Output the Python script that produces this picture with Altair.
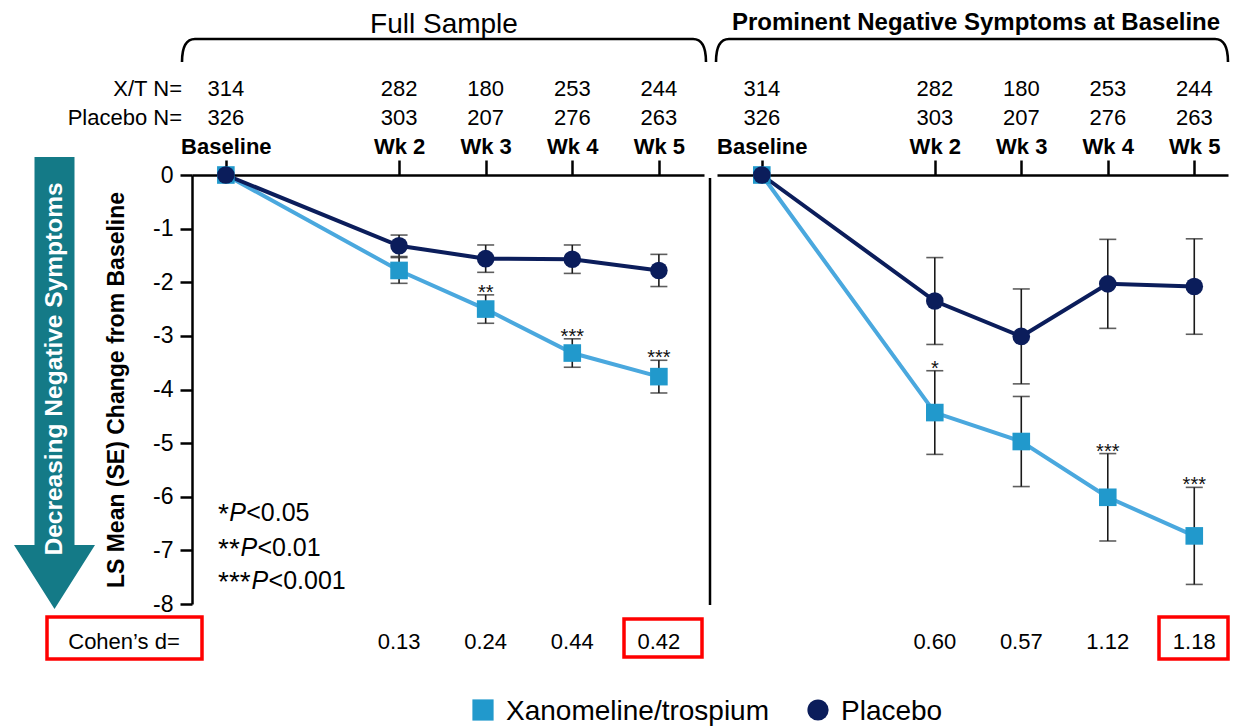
import altair as alt
import pandas as pd

# ---------------- data ----------------
weeks = [0, 2, 3, 4, 5]
week_labels = ["Baseline", "Wk 2", "Wk 3", "Wk 4", "Wk 5"]
xt_n = [314, 282, 180, 253, 244]
pbo_n = [326, 303, 207, 276, 263]
groups = ["Xanomeline/trospium", "Placebo"]

full_xt_mean = [0, -1.78, -2.50, -3.32, -3.76]
full_xt_se = [0, 0.24, 0.265, 0.265, 0.305]
full_pbo_mean = [0, -1.32, -1.56, -1.57, -1.78]
full_pbo_se = [0, 0.20, 0.255, 0.265, 0.30]
full_sig = ["", "", "**", "***", "***"]
full_d = ["", "0.13", "0.24", "0.44", "0.42"]

prom_xt_mean = [0, -4.43, -4.97, -6.01, -6.73]
prom_xt_se = [0, 0.78, 0.84, 0.815, 0.905]
prom_pbo_mean = [0, -2.35, -3.01, -2.03, -2.08]
prom_pbo_se = [0, 0.81, 0.885, 0.83, 0.89]
prom_sig = ["", "*", "", "***", "***"]
prom_d = ["", "0.60", "0.57", "1.12", "1.18"]

p_stars = ["*", "**", "***"]
p_thresholds = ["<0.05", "<0.01", "<0.001"]

panel_titles = ["Full Sample", "Prominent Negative Symptoms at Baseline"]
y_title = "LS Mean (SE) Change from Baseline"
arrow_text = "Decreasing Negative Symptoms"
row_labels = ["X/T N=", "Placebo N="]
cohen_label = "Cohen\u2019s d="

# ---------------- styles ----------------
FONT = "Liberation Sans"
XT_MARK = "#2199CC"
XT_LINE = "#4AA8DE"
PBO = "#0B1D5B"
TEAL = "#147A87"
RED = "#FF0000"
INK = "#000000"


def series_frame(xt_mean, xt_se, pbo_mean, pbo_se):
    rows = []
    for g, means, ses in [(groups[0], xt_mean, xt_se), (groups[1], pbo_mean, pbo_se)]:
        for w, m, s in zip(weeks, means, ses):
            rows.append({"week": w, "group": g, "mean": m, "lo": m - s, "hi": m + s, "se": s})
    return pd.DataFrame(rows)


def info_frame(d_values):
    return pd.DataFrame({
        "week": weeks,
        "xt_n": [str(v) for v in xt_n],
        "pbo_n": [str(v) for v in pbo_n],
        "d": d_values,
    })


def sig_frame(xt_mean, xt_se, sig):
    df = pd.DataFrame({"week": weeks, "hi": [m + s for m, s in zip(xt_mean, xt_se)], "sig": sig})
    return df[df["sig"] != ""]


label_array = [""] * (max(weeks) + 1)
for w, lab in zip(weeks, week_labels):
    label_array[w] = lab
label_expr = "[" + ",".join("'" + s + "'" for s in label_array) + "][datum.value]"

x_axis = alt.Axis(
    orient="top", values=weeks, labelExpr=label_expr, title=None, grid=False,
    tickSize=15, tickWidth=2.5, tickColor=INK, domainWidth=2.5, domainColor=INK,
    labelPadding=2, labelFontSize=22, labelFontWeight="bold", labelFont=FONT,
    labelColor=INK, labelFlush=False, labelOverlap=False,
)
y_scale = alt.Scale(domain=[-8, 0], nice=False, zero=False)
y_axis = alt.Axis(
    values=list(range(-8, 1)), labelExpr="toString(datum.value)", title=None, grid=False,
    tickSize=12, tickWidth=2.5, tickColor=INK, domainWidth=2.5, domainColor=INK,
    labelPadding=7, labelFontSize=23, labelFont=FONT, labelColor=INK,
    labelFlush=False, labelOverlap=False,
)


def Y(field):
    return alt.Y(f"{field}:Q", scale=y_scale, axis=y_axis)


color_scale = alt.Scale(domain=groups, range=[XT_MARK, PBO])
stroke_scale = alt.Scale(domain=groups, range=[XT_LINE, PBO])
shape_scale = alt.Scale(domain=groups, range=["square", "circle"])


def make_panel(series, info, sig, xscale):
    X = alt.X("week:Q", scale=xscale, axis=x_axis)
    base = alt.Chart(series)
    line = base.mark_line(strokeWidth=4).encode(
        x=X, y=Y("mean"),
        stroke=alt.Stroke("group:N", scale=stroke_scale, legend=None),
    )
    err = base.transform_filter("datum.se > 0").mark_errorbar(
        ticks=True, size=17, thickness=1.6, color="#1a1a1a"
    ).encode(x=X, y=Y("lo"), y2=alt.Y2("hi"))
    pts = base.mark_point(filled=True, opacity=1, size=310).encode(
        x=X, y=Y("mean"),
        color=alt.Color("group:N", scale=color_scale, legend=None),
        shape=alt.Shape("group:N", scale=shape_scale, legend=None),
    )
    stars = alt.Chart(sig).mark_text(
        font=FONT, fontSize=20, baseline="alphabetic", dy=4, color="#111111"
    ).encode(x=X, y=Y("hi"), text="sig:N")
    n1 = alt.Chart(info).mark_text(font=FONT, fontSize=22, baseline="middle", color=INK).encode(
        x=X, y=alt.value(-86), text="xt_n:N")
    n2 = alt.Chart(info).mark_text(font=FONT, fontSize=22, baseline="middle", color=INK).encode(
        x=X, y=alt.value(-57), text="pbo_n:N")
    dd = alt.Chart(info).transform_filter("datum.d != ''").mark_text(
        font=FONT, fontSize=22, baseline="middle", color=INK
    ).encode(x=X, y=alt.value(467), text="d:N")
    return alt.layer(line, err, pts, stars, n1, n2, dd)


left_scale = alt.Scale(domain=[-0.391, 5.521], range=[0, 512], nice=False, zero=False)
right_scale = alt.Scale(domain=[-0.518, 5.39], range=[525, 1036], nice=False, zero=False)

left = make_panel(series_frame(full_xt_mean, full_xt_se, full_pbo_mean, full_pbo_se),
                  info_frame(full_d), sig_frame(full_xt_mean, full_xt_se, full_sig), left_scale)
right = make_panel(series_frame(prom_xt_mean, prom_xt_se, prom_pbo_mean, prom_pbo_se),
                   info_frame(prom_d), sig_frame(prom_xt_mean, prom_xt_se, prom_sig), right_scale)

# ---------------- legend (drawn from the group list) ----------------
legend_df = pd.DataFrame({"group": groups})
LX = alt.X("group:N", scale=alt.Scale(domain=groups, range=[291, 626], padding=0), axis=None)
leg_sym = alt.Chart(legend_df).mark_point(filled=True, opacity=1, size=450).encode(
    x=LX,
    y=alt.value(535),
    color=alt.Color("group:N", scale=color_scale, legend=None),
    shape=alt.Shape("group:N", scale=shape_scale, legend=None),
)
leg_txt = alt.Chart(legend_df).mark_text(
    font=FONT, fontSize=28, align="left", baseline="middle", color=INK, dx=23
).encode(
    x=LX,
    y=alt.value(536.5),
    text="group:N",
)
legend_layer = alt.layer(leg_sym, leg_txt)

one = pd.DataFrame({"k": [0]})


def txt(text, x, y, **kw):
    props = dict(font=FONT, color=INK, baseline="middle", align="center")
    props.update(kw)
    return alt.Chart(one).mark_text(text=text, **props).encode(x=alt.value(x), y=alt.value(y))


def path(shape, x, y, **kw):
    return alt.Chart(one).mark_point(shape=shape, size=4, opacity=1, **kw).encode(
        x=alt.value(x), y=alt.value(y))


def box(x, x2, y, y2):
    return alt.Chart(one).mark_rect(fill="transparent", stroke=RED, strokeWidth=3.5).encode(
        x=alt.value(x), x2=alt.value(x2), y=alt.value(y), y2=alt.value(y2))


decor = []
# panel titles and braces
decor.append(txt(panel_titles[0], 252, -150, fontSize=28))
decor.append(txt(panel_titles[1], 784, -152, fontSize=24, fontWeight="bold"))
decor.append(path("M0,0C0,-15,4,-23,13,-23L511,-23C520,-23,524,-15,524,0", -10, -113,
                  filled=False, stroke=INK, strokeWidth=2.6))
decor.append(path("M0,0C0,-15,4,-23,13,-23L499,-23C508,-23,512,-15,512,0", 524, -113,
                  filled=False, stroke=INK, strokeWidth=2.6))
# N row labels
decor.append(txt(row_labels[0], -10, -86, fontSize=22, align="right"))
decor.append(txt(row_labels[1], -10, -57, fontSize=22, align="right"))
# divider between panels
decor.append(alt.Chart(one).mark_rule(color=INK, strokeWidth=2.5).encode(
    x=alt.value(518), y=alt.value(3), y2=alt.value(430)))
# arrow with text
decor.append(path("M-20,-388L20,-388L20,0L40.5,0L0,64L-40.5,0L-20,0Z", -137.5, 370,
                  filled=True, fill=TEAL, strokeWidth=0))
decor.append(txt(arrow_text, -137, 194, fontSize=24.5, fontWeight="bold", color="#FFFFFF", angle=270))
# y title
decor.append(txt(y_title, -75, 215, fontSize=23, fontWeight="bold", angle=270))
# p-value key
for i, (st, th) in enumerate(zip(p_stars, p_thresholds)):
    yy = [338, 372.5, 406][i]
    px = 26 + len(st) * 11.2
    decor.append(txt(st, 26, yy + 2, fontSize=28, align="left"))
    decor.append(txt("P", px, yy, fontSize=25, align="left", fontStyle="italic"))
    decor.append(txt(th, px + 17, yy, fontSize=25, align="left"))
# Cohen's d
decor.append(txt(cohen_label, -68, 467, fontSize=22))
decor.append(box(-145, 10, 442, 484))
decor.append(box(432, 510, 444, 482))
decor.append(box(967, 1036, 442, 484))

chart = alt.layer(left, right, legend_layer, *decor).resolve_scale(x="independent").properties(
    width=1036, height=429,
    autosize=alt.AutoSizeParams(type="none"),
    padding={"left": 184, "top": 167, "right": 2, "bottom": 123},
).configure_view(strokeWidth=0)

chart.save("out.html", embed_options={"renderer": "svg", "actions": False})
